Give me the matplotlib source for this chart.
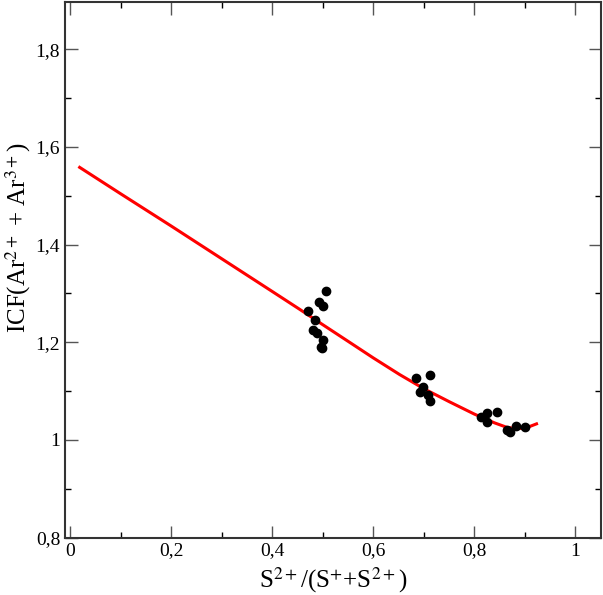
import numpy as np
import matplotlib
matplotlib.use("Agg")
import matplotlib.pyplot as plt
from matplotlib.ticker import MultipleLocator, FuncFormatter

# observed ICF values (points)
obs_x = [0.507, 0.493, 0.501, 0.471, 0.484, 0.480, 0.488, 0.501, 0.497, 0.499,
         0.684, 0.712, 0.699, 0.692, 0.709, 0.713,
         0.814, 0.825, 0.845, 0.825, 0.865, 0.870, 0.882, 0.900]
obs_y = [1.304, 1.283, 1.274, 1.265, 1.246, 1.225, 1.218, 1.205, 1.191, 1.188,
         1.126, 1.133, 1.109, 1.099, 1.092, 1.080,
         1.048, 1.055, 1.058, 1.037, 1.020, 1.017, 1.029, 1.027]

# fitted ICF curve
fit_x = [0.019, 0.1, 0.2, 0.3, 0.4, 0.455, 0.5, 0.553, 0.6, 0.652, 0.7,
         0.751, 0.8, 0.84, 0.864, 0.884, 0.903, 0.923]
fit_y = [1.558, 1.504, 1.438, 1.371, 1.304, 1.267, 1.236, 1.200, 1.168, 1.134,
         1.105, 1.078, 1.053, 1.035, 1.026, 1.023, 1.025, 1.033]

plt.rcParams['font.family'] = ['Liberation Serif', 'DejaVu Serif']
plt.rcParams['mathtext.fontset'] = 'stix'

fig = plt.figure(figsize=(6.03, 5.95), dpi=100)
ax = fig.add_axes([0.1078, 0.0963, 0.9962 - 0.1078, 0.9971 - 0.0963])

ax.plot(fit_x, fit_y, color='red', lw=2.2, zorder=2)
ax.plot(obs_x, obs_y, 'o', color='black', ms=6, zorder=3)

ax.set_xlim(-0.01, 1.05)
ax.set_ylim(0.8, 1.897)

comma = FuncFormatter(lambda v, p: ('%g' % round(v, 2)).replace('.', ','))
ax.xaxis.set_major_locator(MultipleLocator(0.2))
ax.xaxis.set_minor_locator(MultipleLocator(0.1))
ax.yaxis.set_major_locator(MultipleLocator(0.2))
ax.yaxis.set_minor_locator(MultipleLocator(0.1))
ax.xaxis.set_major_formatter(comma)
ax.yaxis.set_major_formatter(comma)

ax.tick_params(which='both', direction='in', top=True, right=True, labelsize=14)
ax.tick_params(which='major', length=9, width=1, color='#555555')
ax.tick_params(which='minor', length=4.5, width=1)
for s in ax.spines.values():
    s.set_linewidth(1.5)
    s.set_color('#333333')

ax.set_xlabel(r'S$^{2+}$/(S$^{+}$+S$^{2+}$)', fontsize=18, labelpad=4)
ax.set_ylabel(r'ICF(Ar$^{2+}$ + Ar$^{3+}$)', fontsize=18)
ax.yaxis.set_label_coords(-0.06, 0.56)

fig.savefig('out.png', dpi=100)
